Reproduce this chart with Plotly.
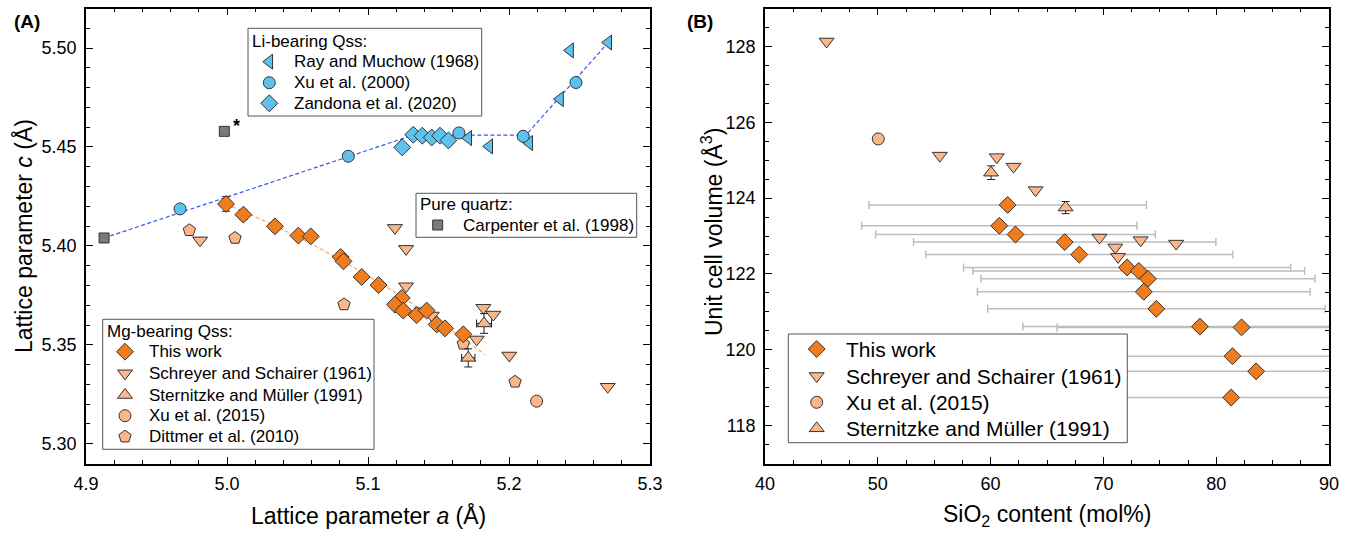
import plotly.graph_objects as go

# ---------------- Panel A data (lattice parameters, Å) ----------------
ray_a = [5.1711, 5.1860, 5.2144, 5.2362, 5.2433, 5.2704]
ray_c = [5.4545, 5.4503, 5.4520, 5.4742, 5.4988, 5.5028]

xu2000_a = [4.9667, 5.0860, 5.1645, 5.2101, 5.2475]
xu2000_c = [5.4187, 5.4453, 5.4571, 5.4554, 5.4826]

zandona_a = [5.1243, 5.1321, 5.1385, 5.1452, 5.1511, 5.1570]
zandona_c = [5.4498, 5.4562, 5.4557, 5.4548, 5.4557, 5.4533]

carpenter_a = [4.9128, 4.9981]
carpenter_c = [5.4040, 5.4579]

li_trend_a = [4.9128, 5.132, 5.212, 5.2704]
li_trend_c = [5.4040, 5.456, 5.456, 5.5028]

thiswork_a = [4.9993, 5.0116, 5.0340, 5.0506, 5.0594, 5.0806, 5.0826, 5.0955,
              5.1075, 5.1239, 5.1191, 5.1250, 5.1345, 5.1416, 5.1487, 5.1546, 5.1676]
thiswork_c = [5.4212, 5.4158, 5.4099, 5.4052, 5.4048, 5.3944, 5.3922, 5.3843,
              5.3802, 5.3737, 5.3703, 5.3673, 5.3650, 5.3673, 5.3603, 5.3583, 5.3553]
thiswork_c_err = [0.0037, 0.0025, 0.0015, 0.0015, 0.0018, 0.0015, 0.0015, 0.0015,
                  0.0015, 0.0015, 0.0015, 0.0015, 0.0015, 0.0015, 0.0015, 0.0015, 0.0015]
thiswork_a_err = [0.001] * 17

schreyer_a = [4.9809, 5.1191, 5.1270, 5.1270, 5.1381, 5.1452, 5.1771, 5.1818,
              5.1889, 5.2002, 5.2700]
schreyer_c = [5.4028, 5.4091, 5.3985, 5.3796, 5.3670, 5.3648, 5.3527, 5.3687,
              5.3653, 5.3446, 5.3288]

sternitzke_a = [5.1711, 5.1823]
sternitzke_c = [5.3434, 5.3608]
sternitzke_a_err = [0.0047, 0.0053]
sternitzke_c_err = [0.0046, 0.0050]

xu2015_a = [5.2196]
xu2015_c = [5.3215]

dittmer_a = [4.9733, 5.0057, 5.0830, 5.1676, 5.2043]
dittmer_c = [5.4079, 5.4040, 5.3704, 5.3505, 5.3313]

mg_trend_a = [4.995, 5.03, 5.06, 5.09, 5.12, 5.15, 5.183]
mg_trend_c = [5.4225, 5.4116, 5.4010, 5.3891, 5.3762, 5.3620, 5.3451]

# ---------------- Panel B data (SiO2 mol%, unit cell volume Å^3) ----------------
b_this_x = [61.51, 60.77, 62.21, 66.57, 67.86, 72.10, 73.14, 73.95, 73.58, 74.69,
            78.56, 82.25, 81.44, 83.54, 81.33]
b_this_y = [123.82, 123.27, 123.04, 122.84, 122.51, 122.17, 122.08, 121.87, 121.53,
            121.08, 120.61, 120.59, 119.83, 119.43, 118.74]
b_this_xerr = [12.3, 12.2, 12.4, 13.4, 13.6, 14.5, 14.7, 14.8, 14.75, 14.95,
               15.7, 16.35, 16.3, 16.7, 16.3]

b_schreyer_x = [45.46, 55.5, 60.55, 62.03, 63.99, 69.65, 73.3, 76.45, 71.05, 71.3]
b_schreyer_y = [128.13, 125.12, 125.08, 124.83, 124.21, 122.96, 122.89, 122.8, 122.7, 122.45]

b_xu_x = [50.04]
b_xu_y = [125.56]

b_stern_x = [60.04, 66.65]
b_stern_y = [124.67, 123.75]
b_stern_yerr = [0.18, 0.16]

# legend entries (titles and labels)
li_title = "Li-bearing Qss:"
li_labels = ["Ray and Muchow (1968)", "Xu et al. (2000)", "Zandona et al. (2020)"]
pq_title = "Pure quartz:"
pq_labels = ["Carpenter et al. (1998)"]
mg_title = "Mg-bearing Qss:"
mg_labels = ["This work", "Schreyer and Schairer (1961)", "Sternitzke and Müller (1991)",
             "Xu et al. (2015)", "Dittmer et al. (2010)"]
b_labels = ["This work", "Schreyer and Schairer (1961)", "Xu et al. (2015)",
            "Sternitzke and Müller (1991)"]

# ---------------- styling / layout geometry (pixels) ----------------
FONT = "Arial, Liberation Sans, sans-serif"
LI_FILL = "#5EC2EF"
TW_FILL = "#F07C1E"
MG_FILL = "#FBB68A"
GRAY = "#7A7A7A"
EDGE = "#333333"

W, H = 1354, 533
AX_L, AX_R = 86, 650
BX_L, BX_R = 765, 1329
P_T, P_B = 8.5, 463.5
A_XR, A_YR = [4.9, 5.3], [5.29, 5.52]
B_XR, B_YR = [40, 90], [117, 129]

def px_x(v):
    return v / W
def px_y(v):
    return 1 - v / H

def a_from_px(px, py):
    return (A_XR[0] + (px - AX_L) / (AX_R - AX_L) * (A_XR[1] - A_XR[0]),
            A_YR[1] - (py - P_T) / (P_B - P_T) * (A_YR[1] - A_YR[0]))

def b_from_px(px, py):
    return (B_XR[0] + (px - BX_L) / (BX_R - BX_L) * (B_XR[1] - B_XR[0]),
            B_YR[1] - (py - P_T) / (P_B - P_T) * (B_YR[1] - B_YR[0]))

def mk(sym, fill, size=12, lw=1):
    return dict(symbol=sym, color=fill, size=size, line=dict(color=EDGE, width=lw))

STY = {
    "ray": mk("triangle-left", LI_FILL, 13),
    "xu2000": mk("circle", LI_FILL, 12),
    "zandona": mk("diamond", LI_FILL, 13),
    "carpenter": mk("square", GRAY, 10),
    "this": mk("diamond", TW_FILL, 13),
    "schreyer": mk("triangle-down", MG_FILL, 13),
    "stern": mk("triangle-up", MG_FILL, 13),
    "xu2015": mk("circle", MG_FILL, 12),
    "dittmer": mk("pentagon", MG_FILL, 13),
}

fig = go.Figure()

def add(x, y, style, ax="A", **kw):
    xa, ya = ("x", "y") if ax == "A" else ("x2", "y2")
    fig.add_trace(go.Scatter(x=x, y=y, mode="markers", marker=STY[style], xaxis=xa, yaxis=ya,
                             showlegend=False, **kw))

# trend lines
fig.add_trace(go.Scatter(x=li_trend_a, y=li_trend_c, mode="lines", showlegend=False,
                         line=dict(color="#3558F0", width=1.2, dash="4px,2.5px")))
fig.add_trace(go.Scatter(x=mg_trend_a, y=mg_trend_c, mode="lines", showlegend=False,
                         line=dict(color="#F5A565", width=1.2, dash="4px,2.5px")))

# Panel A data
add(ray_a, ray_c, "ray", name="Ray and Muchow (1968)")
add(xu2000_a, xu2000_c, "xu2000", name="Xu et al. (2000)")
add(zandona_a, zandona_c, "zandona", name="Zandona et al. (2020)")
add(carpenter_a, carpenter_c, "carpenter", name="Carpenter et al. (1998)")
add(dittmer_a, dittmer_c, "dittmer", name="Dittmer et al. (2010)")
add(xu2015_a, xu2015_c, "xu2015", name="Xu et al. (2015)")
add(schreyer_a, schreyer_c, "schreyer", name="Schreyer and Schairer (1961)")
add(sternitzke_a, sternitzke_c, "stern", name="Sternitzke and Müller (1991)",
    error_x=dict(type="data", array=sternitzke_a_err, color="#222", thickness=1, width=4),
    error_y=dict(type="data", array=sternitzke_c_err, color="#222", thickness=1, width=4))
add(thiswork_a, thiswork_c, "this", name="This work",
    error_x=dict(type="data", array=thiswork_a_err, color="#222", thickness=1, width=3),
    error_y=dict(type="data", array=thiswork_c_err, color="#222", thickness=1, width=4))

# Panel B data
add(b_this_x, b_this_y, "this", ax="B", name="This work",
    error_x=dict(type="data", array=b_this_xerr, color="#BDBDBD", thickness=1.5, width=4))
add(b_schreyer_x, b_schreyer_y, "schreyer", ax="B", name="Schreyer and Schairer (1961)")
add(b_xu_x, b_xu_y, "xu2015", ax="B", name="Xu et al. (2015)")
add(b_stern_x, b_stern_y, "stern", ax="B", name="Sternitzke and Müller (1991)",
    error_y=dict(type="data", array=b_stern_yerr, color="#222", thickness=1, width=4))

# ---------------- legend boxes (drawn as real boxes + markers + text) ----------------
annotations = []

def legend_box(ax, box, title, title_pos, labels, styles, rows_y, mark_x, text_x, fsize):
    conv = a_from_px if ax == "A" else b_from_px
    xa, ya = ("x", "y") if ax == "A" else ("x2", "y2")
    x0, y0, x1, y1 = box
    c0 = conv(x0, y0)
    c1 = conv(x1, y1)
    fig.add_trace(go.Scatter(x=[c0[0], c1[0], c1[0], c0[0], c0[0]],
                             y=[c0[1], c0[1], c1[1], c1[1], c0[1]],
                             mode="lines", fill="toself", fillcolor="white",
                             line=dict(color="#555555", width=1), xaxis=xa, yaxis=ya,
                             showlegend=False, hoverinfo="skip"))
    if title:
        tx, ty = conv(*title_pos)
        annotations.append(dict(text=title, x=tx, y=ty, xref=xa, yref=ya, showarrow=False,
                                xanchor="left", yanchor="middle", font=dict(size=fsize)))
    for lab, st, ry in zip(labels, styles, rows_y):
        mx, my = conv(mark_x, ry)
        fig.add_trace(go.Scatter(x=[mx], y=[my], mode="markers", marker=STY[st], xaxis=xa, yaxis=ya,
                                 showlegend=False, hoverinfo="skip"))
        tx, ty = conv(text_x, ry)
        annotations.append(dict(text=lab, x=tx, y=ty, xref=xa, yref=ya, showarrow=False,
                                xanchor="left", yanchor="middle", font=dict(size=fsize)))

legend_box("A", (248, 28.3, 481.7, 116), li_title, (250, 41.7), li_labels,
           ["ray", "xu2000", "zandona"], [61.7, 82.7, 103.3], 269.3, 292, 17)
legend_box("A", (416, 193.3, 636.7, 237.3), pq_title, (418, 204), pq_labels,
           ["carpenter"], [225], 437.7, 460.5, 17)
legend_box("A", (102.7, 319.3, 374, 449.3), mg_title, (104.5, 331.7), mg_labels,
           ["this", "schreyer", "stern", "xu2015", "dittmer"],
           [351.7, 373.3, 395, 415.7, 436.7], 125, 147, 17)
legend_box("B", (788.3, 334, 1127.3, 442.7), None, None, b_labels,
           ["this", "schreyer", "xu2015", "stern"], [349, 376, 402.3, 428.3], 816.7, 844, 21)

# ---------------- axes ----------------
axis_common = dict(showline=True, linecolor="black", linewidth=1.8, mirror="allticks",
                   ticks="inside", ticklen=7, tickwidth=1.3, tickcolor="black",
                   showgrid=False, zeroline=False, automargin=False,
                   tickfont=dict(family=FONT, size=18, color="black"))
minor_common = dict(ticks="inside", ticklen=4, tickcolor="black", tickwidth=1.1)

fig.update_layout(
    width=W, height=H, margin=dict(l=0, r=0, t=0, b=0),
    paper_bgcolor="white", plot_bgcolor="white", showlegend=False,
    font=dict(family=FONT, color="black"),
    xaxis=dict(domain=[px_x(AX_L), px_x(AX_R)], range=A_XR, dtick=0.1, tickformat=".1f", anchor="y",
               ticklabelstandoff=3, minor=dict(dtick=0.02, **minor_common), **axis_common),
    yaxis=dict(domain=[px_y(P_B), px_y(P_T)], range=A_YR, dtick=0.05, tickformat=".2f", anchor="x",
               ticklabelstandoff=4, minor=dict(dtick=0.01, **minor_common), **axis_common),
    xaxis2=dict(domain=[px_x(BX_L), px_x(BX_R)], range=B_XR, dtick=10, anchor="y2",
                ticklabelstandoff=3, minor=dict(dtick=2.5, **minor_common), **axis_common),
    yaxis2=dict(domain=[px_y(P_B), px_y(P_T)], range=B_YR, dtick=2, anchor="x2",
                ticklabelstandoff=4, minor=dict(dtick=0.5, **minor_common), **axis_common),
)

annotations += [
    dict(text="Lattice parameter <i>a</i> (Å)", x=px_x((AX_L + AX_R) / 2), y=px_y(515), xref="paper",
         yref="paper", showarrow=False, font=dict(size=23), xanchor="center", yanchor="middle"),
    dict(text="Lattice parameter <i>c</i> (Å)", x=px_x(23), y=px_y(236), xref="paper", yref="paper",
         showarrow=False, font=dict(size=23), textangle=-90, xanchor="center", yanchor="middle"),
    dict(text="SiO<sub>2</sub> content (mol%)", x=px_x((BX_L + BX_R) / 2), y=px_y(515), xref="paper",
         yref="paper", showarrow=False, font=dict(size=23), xanchor="center", yanchor="middle"),
    dict(text="Unit cell volume (Å<sup>3</sup>)", x=px_x(712), y=px_y(232), xref="paper", yref="paper",
         showarrow=False, font=dict(size=23), textangle=-90, xanchor="center", yanchor="middle"),
    dict(text="<b>(A)</b>", x=px_x(27), y=px_y(21), xref="paper", yref="paper",
         showarrow=False, font=dict(size=19), xanchor="center", yanchor="middle"),
    dict(text="<b>(B)</b>", x=px_x(700), y=px_y(21), xref="paper", yref="paper",
         showarrow=False, font=dict(size=19), xanchor="center", yanchor="middle"),
    dict(text="<b>*</b>", x=carpenter_a[1], y=carpenter_c[1], xref="x", yref="y", xshift=12, yshift=5,
         showarrow=False, font=dict(size=18), xanchor="center", yanchor="middle"),
]
fig.update_layout(annotations=annotations)

fig.write_html("out.html", config={"displayModeBar": False},
               post_script="document.body.style.margin='0px';")
